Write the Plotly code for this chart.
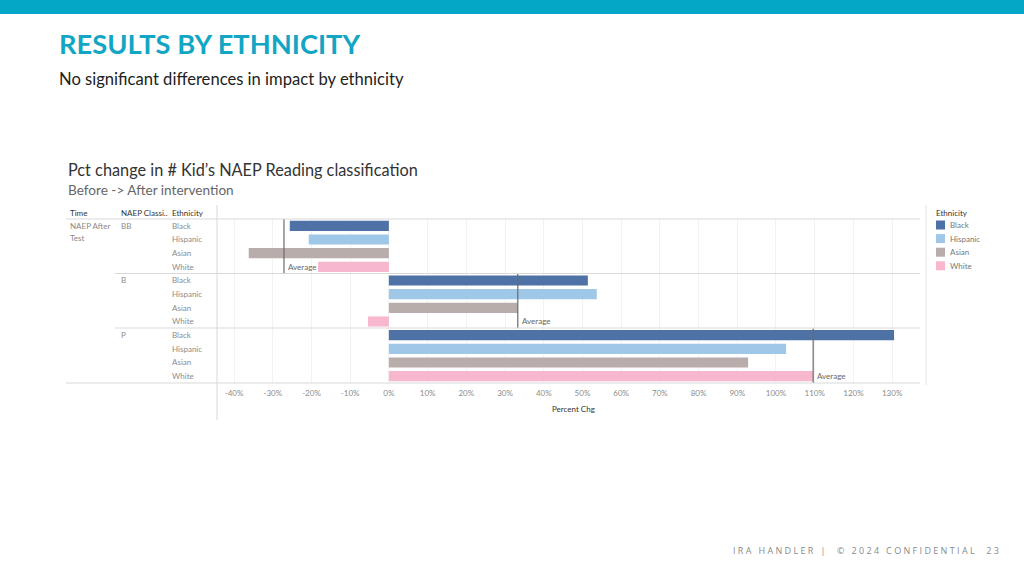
import plotly.graph_objects as go

W, H = 1024, 576

# ---------------- data ----------------
groups = ["BB", "B", "P"]
ethnicities = ["Black", "Hispanic", "Asian", "White"]
colors = ["#4e72a6", "#9fc8e8", "#b8adab", "#f7b8cf"]
values = {
    "Black":    [-25.6, 51.4, 130.5],
    "Hispanic": [-20.7, 53.7, 102.6],
    "Asian":    [-36.2, 33.3, 92.8],
    "White":    [-18.3, -5.4, 109.6],
}
averages = [-27.1, 33.3, 109.6]
tick_vals = list(range(-40, 140, 10))
tick_text = [f"{v}%" for v in tick_vals]

# ---------------- helpers ----------------
def px(x):
    return x / W

def py(y):
    return 1 - y / H

cats = [f"{g}|{e}" for g in groups for e in ethnicities]

fig = go.Figure()
for e, c in zip(ethnicities, colors):
    fig.add_trace(go.Bar(
        y=[f"{g}|{e}" for g in groups],
        x=values[e],
        orientation="h",
        marker=dict(color=c, line=dict(width=0)),
        width=0.74,
        name=e,
        showlegend=False,
        hoverinfo="x+y",
    ))

shapes = []
annotations = []

# top teal bar
shapes.append(dict(type="rect", xref="paper", yref="paper", x0=0, x1=1, y0=py(14), y1=1,
                   fillcolor="#05a7c7", line=dict(width=0), layer="below"))

# average lines
for i, a in enumerate(averages):
    shapes.append(dict(type="line", xref="x", yref="y", x0=a, x1=a,
                       y0=4 * i - 0.5, y1=4 * i + 3.5,
                       line=dict(color="#6b6b6b", width=1.2)))
    annotations.append(dict(x=a, y=f"{groups[i]}|White", xref="x", yref="y",
                            text="Average", showarrow=False, xanchor="left", yanchor="middle",
                            xshift=2, font=dict(family="Lato", size=8, color="#666666")))

# table separators
shapes.append(dict(type="line", xref="paper", yref="paper", x0=px(66), x1=px(920),
                   y0=py(219), y1=py(219), line=dict(color="#d9d9d9", width=1)))
for yy in [273.5, 328]:
    shapes.append(dict(type="line", xref="paper", yref="paper", x0=px(115), x1=px(920),
                       y0=py(yy), y1=py(yy), line=dict(color="#d9d9d9", width=1)))
shapes.append(dict(type="line", xref="paper", yref="paper", x0=px(66), x1=px(920),
                   y0=py(383), y1=py(383), line=dict(color="#d9d9d9", width=1)))
shapes.append(dict(type="line", xref="paper", yref="paper", x0=px(217), x1=px(217),
                   y0=py(205), y1=py(420), line=dict(color="#d9d9d9", width=1)))
shapes.append(dict(type="line", xref="paper", yref="paper", x0=px(926), x1=px(926),
                   y0=py(205), y1=py(385), line=dict(color="#e3e3e3", width=1)))

# header texts
def txt(x, y, s, size=8, color="#555555", family="Lato", bold=False):
    annotations.append(dict(x=px(x), y=py(y), xref="paper", yref="paper", text=(f"<b>{s}</b>" if bold else s),
                            showarrow=False, xanchor="left", yanchor="middle",
                            font=dict(family=family, size=size, color=color)))

txt(57, 43, "RESULTS BY ETHNICITY", size=27.3, color="#12a6c4", bold=True)
txt(57, 79, "No significant differences in impact by ethnicity", size=16.6, color="#222222")
txt(66, 170, "Pct change in # Kid\u2019s NAEP Reading classification", size=16.3, color="#333333")
txt(66, 190, "Before -> After intervention", size=13.6, color="#666666")

txt(68, 213, "Time", color="#333333")
txt(119, 213, "NAEP Classi..", color="#333333")
txt(170, 213, "Ethnicity", color="#333333")
txt(68, 226, "NAEP After", color="#888888")
txt(68, 238, "Test", color="#888888")

for i, g in enumerate(groups):
    annotations.append(dict(x=px(119), y=f"{g}|Black", xref="paper", yref="y", text=g,
                            showarrow=False, xanchor="left", yanchor="middle",
                            font=dict(family="Lato", size=8, color="#8c8c8c")))
    for e in ethnicities:
        annotations.append(dict(x=px(170), y=f"{g}|{e}", xref="paper", yref="y", text=e,
                                showarrow=False, xanchor="left", yanchor="middle",
                                font=dict(family="Lato", size=8, color="#8c8c8c")))

# axis title
txt(550, 409, "Percent Chg", color="#333333")

# legend
txt(934, 213, "Ethnicity", color="#333333")
for k, (e, c) in enumerate(zip(ethnicities, colors)):
    yc = 225 + k * 13.6
    shapes.append(dict(type="rect", xref="paper", yref="paper", x0=px(936), x1=px(945),
                       y0=py(yc + 4.5), y1=py(yc - 4.5), fillcolor=c, line=dict(width=0)))
    txt(948, yc, e, color="#777777")

# footer
footer = "I R A   H A N D L E R   |     ©   2 0 2 4   C O N F I D E N T I A L     2 3"
annotations.append(dict(x=px(1001), y=py(550), xref="paper", yref="paper", text=footer,
                        showarrow=False, xanchor="right", yanchor="middle",
                        font=dict(family="Open Sans", size=9, color="#8a8a8a")))

fig.update_layout(
    width=W, height=H,
    margin=dict(l=0, r=0, t=0, b=0),
    paper_bgcolor="white", plot_bgcolor="white",
    barmode="overlay",
    xaxis=dict(domain=[px(217), px(920)], range=[-44.4, 137.2],
               tickvals=tick_vals, ticktext=tick_text,
               tickfont=dict(family="Lato", size=8, color="#8c8c8c"),
               showgrid=True, gridcolor="#f2f2f2", gridwidth=1,
               zeroline=False, showline=False, ticks="", ticklen=0,
               ticklabelstandoff=4,
               anchor="y", fixedrange=True),
    yaxis=dict(domain=[py(383), py(219)], type="category",
               categoryorder="array", categoryarray=cats,
               showticklabels=False,
               showgrid=False, zeroline=False, showline=False, ticks="",
               range=[len(cats) - 0.5, -0.5]),
    shapes=shapes,
    annotations=annotations,
    font=dict(family="Lato"),
)

fig.write_html("out.html", config={"displayModeBar": False},
               post_script="document.body.style.margin='0';document.body.style.overflow='hidden';")
